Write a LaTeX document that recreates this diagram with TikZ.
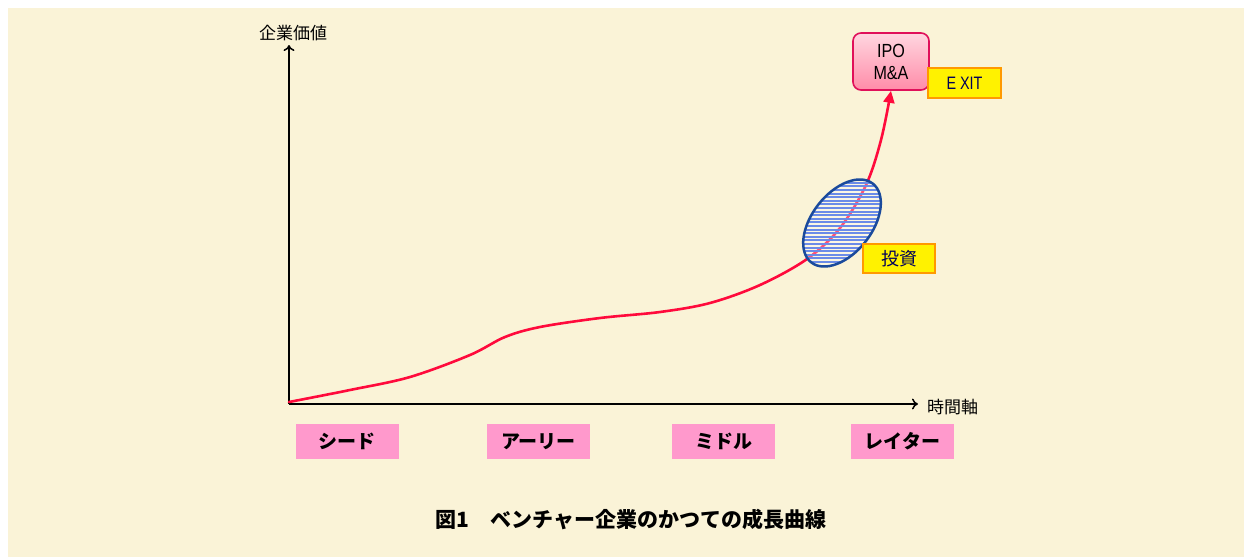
\documentclass[tikz,border=0pt]{standalone}
\usepackage{fontspec}
\setmainfont{Liberation Sans}
\newfontfamily\jp{Noto Sans CJK JP}
\usetikzlibrary{arrows.meta,shapes.geometric}
\definecolor{bgc}{HTML}{FAF3D7}
\definecolor{stagepink}{HTML}{FF99CC}
\definecolor{curvered}{HTML}{FF0A3C}
\definecolor{ipoborder}{HTML}{E0105A}
\definecolor{ipotop}{HTML}{FFD6E0}
\definecolor{ipobot}{HTML}{FF8CA8}
\definecolor{exitborder}{HTML}{FF9900}
\definecolor{navy}{HTML}{00005A}
\definecolor{ellfill}{HTML}{6A8BE8}
\definecolor{ellborder}{HTML}{1A4A9C}
\tikzset{
  stagebox/.style={fill=stagepink, minimum width=103pt, minimum height=35pt, inner sep=0pt,
    font=\jp\bfseries\fontsize{19}{21}\selectfont},
  yellowbox/.style={fill=yellow, draw=exitborder, line width=2pt, inner sep=0pt, text=navy},
  axisline/.style={line width=2pt, -{To[length=6pt,width=11pt,line width=1.5pt]}},
  stripe/.style={ellfill, line width=2.0pt},
}
\begin{document}
\begin{tikzpicture}[x=1pt,y=-1pt]
\useasboundingbox (0,0) rectangle (1244,557);
\fill[white] (0,0) rectangle (1244,557);
\fill[bgc] (8,8) rectangle (1244,557);

% axes
\coordinate (O) at (289,404);
\coordinate (ytop) at (289,45);
\coordinate (xend) at (918,404);
\draw[axisline] (O) -- (ytop);
\draw[axisline] (O) -- (xend);
\node[font=\jp\fontsize{17}{19}\selectfont, anchor=center] (ylab) at (293,33) {企業価値};
\node[font=\jp\fontsize{17}{19}\selectfont, anchor=west, inner sep=0pt] (xlab) at (927,407) {時間軸};

% IPO box
\node[draw=ipoborder, line width=1.6pt, rounded corners=8pt, top color=ipotop, bottom color=ipobot,
      minimum width=76pt, minimum height=57pt, inner sep=0pt, align=center,
      font=\fontsize{19}{22}\selectfont] (ipo) at (891,61.5) {\scalebox{0.85}[1]{IPO}\\\scalebox{0.85}[1]{M\&A}};

% growth curve
\coordinate (cstart) at (289,402);
\draw[curvered, line width=2.6pt, line cap=round,
      -{Triangle[length=12pt,width=11pt]}]
  plot[smooth, tension=0.55] coordinates {(cstart) (350,390) (410,377) (470,355) (505,337) (540,327)
    (600,318) (660,312) (710,303) (760,285) (807,259) (840,228) (866,185) (881,140) (ipo.south)};

% investment ellipse (translucent white + blue horizontal stripes), over the curve
\coordinate (ec) at (842,223);
\fill[white, opacity=0.3, rotate around={52:(ec)}] (ec) ellipse [x radius=50, y radius=30];
\begin{scope}
  \clip[rotate around={52:(ec)}] (ec) ellipse [x radius=50, y radius=30];
  \foreach \yy in {172,175.6,...,276} { \draw[stripe] (790,\yy) -- (900,\yy); }
\end{scope}
\node[ellipse, minimum width=100pt, minimum height=60pt, rotate=52, inner sep=0pt,
      draw=ellborder, line width=2.5pt] (ell) at (ec) {};

% yellow labels
\node[yellowbox, minimum width=73pt, minimum height=30pt, font=\fontsize{18}{20}\selectfont] (exit) at (964.5,83) {\scalebox{0.8}[1]{E XIT}};
\node[yellowbox, minimum width=72pt, minimum height=29pt, font=\jp\fontsize{18}{20}\selectfont] (invest) at (899,258.5) {投資};

% stages
\node[stagebox] (seed) at (347,441.5) {シード};
\node[stagebox] (early) at (538.5,441.5) {アーリー};
\node[stagebox] (middle) at (723.5,441.5) {ミドル};
\node[stagebox] (later) at (902.5,441.5) {レイター};

% caption
\node[font=\jp\bfseries\fontsize{21}{23}\selectfont] (cap) at (631,520) {図1　ベンチャー企業のかつての成長曲線};
\end{tikzpicture}
\end{document}
